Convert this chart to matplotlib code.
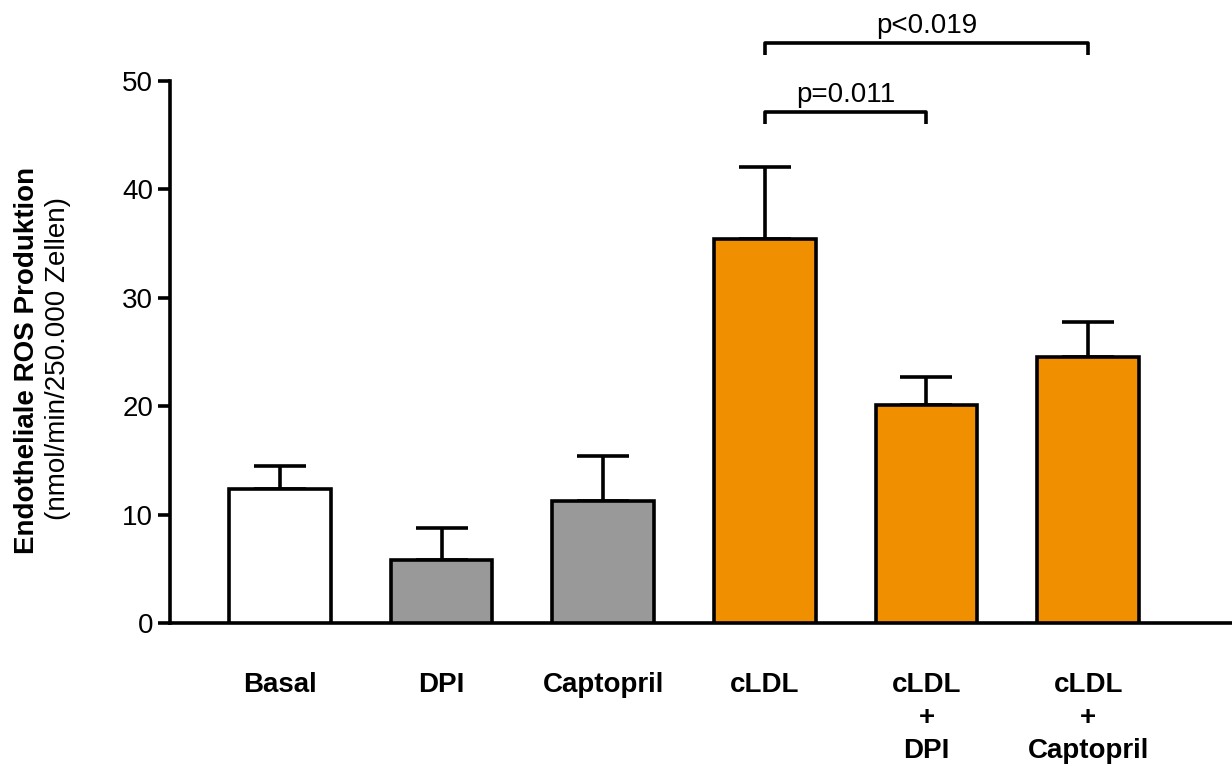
import matplotlib
matplotlib.use('Agg')
import matplotlib.pyplot as plt
import numpy as np

# data
groups = ['Basal', 'DPI', 'Captopril', 'cLDL', 'cLDL\n+\nDPI', 'cLDL\n+\nCaptopril']
means = [12.4, 5.8, 11.3, 35.4, 20.1, 24.5]
sems = [2.1, 3.0, 4.1, 6.7, 2.6, 3.3]
colors = ['white', '#999999', '#999999', '#F09000', '#F09000', '#F09000']

# significance brackets: (from, to, text, level)
brackets = [(3, 4, 'p=0.011', 47.1), (3, 5, 'p<0.019', 53.5)]

FONT = ['Liberation Sans', 'DejaVu Sans']


def main():
    fig = plt.figure(figsize=(12.32, 7.66), dpi=100)
    ax = fig.add_axes([170 / 1232, 1 - 623 / 766, 1 - 170 / 1232, (623 - 81) / 766])

    x = np.arange(len(groups))
    lw = 2.6
    ax.bar(x, means, width=0.63, color=colors, edgecolor='black', linewidth=lw, zorder=3)
    ax.errorbar(x, means, yerr=[np.zeros(len(sems)), sems], fmt='none', ecolor='black',
                elinewidth=lw, capsize=19, capthick=lw, zorder=2)

    ax.set_xlim(-0.68, 5.89)
    ax.set_ylim(0, 50)
    ax.set_yticks([0, 10, 20, 30, 40, 50])

    for side in ['top', 'right']:
        ax.spines[side].set_visible(False)
    ax.spines['left'].set_linewidth(lw)
    ax.spines['bottom'].set_linewidth(lw)

    ax.tick_params(axis='y', length=9, width=lw, labelsize=20, pad=3)
    ax.tick_params(axis='x', length=0, pad=35)
    ax.set_xticks(x)
    ax.set_xticklabels(groups, fontsize=20, fontweight='bold', linespacing=1.36,
                       family=FONT, va='top')
    for lab in ax.get_yticklabels():
        lab.set_family(FONT)

    # y axis label in two parts
    fig.text(27 / 1232, 1 - 360 / 766, 'Endotheliale ROS Produktion', rotation=90,
             ha='center', va='center', fontsize=20, fontweight='bold', family=FONT)
    fig.text(58 / 1232, 1 - 358 / 766, '(nmol/min/250.000 Zellen)', rotation=90,
             ha='center', va='center', fontsize=20, family=FONT)

    # brackets
    for a, b, txt, lvl in brackets:
        ax.plot([a, a, b, b], [lvl - 1.1, lvl, lvl, lvl - 1.1], color='black',
                linewidth=lw, clip_on=False, solid_capstyle='butt')
        ax.text((a + b) / 2, lvl + 0.4, txt, ha='center', va='bottom', fontsize=20,
                family=FONT, clip_on=False)

    fig.savefig('out.png', dpi=100)


if __name__ == '__main__':
    main()
